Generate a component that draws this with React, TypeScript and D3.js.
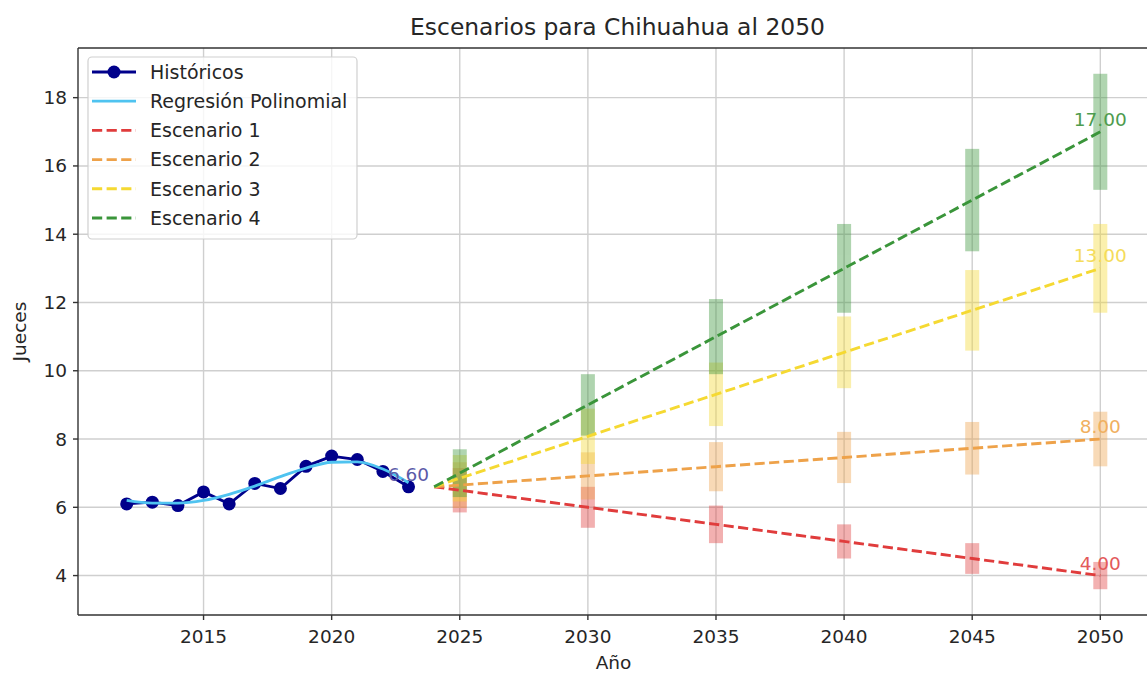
import React from 'react';
import * as d3 from 'd3';

// Historical data
const histYears = [2012, 2013, 2014, 2015, 2016, 2017, 2018, 2019, 2020, 2021, 2022, 2023];
const histValues = [6.1, 6.15, 6.05, 6.45, 6.1, 6.7, 6.55, 7.2, 7.5, 7.4, 7.05, 6.6];
// Polynomial fit
const regValues = [6.2, 6.12, 6.12, 6.2, 6.38, 6.62, 6.9, 7.15, 7.32, 7.33, 7.12, 6.72];

// Scenarios
const scenarioYears = [2024, 2025, 2030, 2035, 2040, 2045, 2050];
const scenario1 = [6.6, 6.5, 6.0, 5.5, 5.0, 4.5, 4.0];
const scenario2 = [6.6, 6.65, 6.92, 7.19, 7.46, 7.73, 8.0];
const scenario3 = [6.6, 6.85, 8.08, 9.31, 10.54, 11.77, 13.0];
const scenario4 = [6.6, 7.0, 9.0, 11.0, 13.0, 15.0, 17.0];

const barYears = [2025, 2030, 2035, 2040, 2045, 2050];
const err1 = [0.65, 0.6, 0.55, 0.5, 0.45, 0.4];
const err2 = [0.67, 0.69, 0.72, 0.75, 0.77, 0.8];
const err3 = [0.68, 0.81, 0.93, 1.05, 1.18, 1.3];
const err4 = [0.7, 0.9, 1.1, 1.3, 1.5, 1.7];

const xTicks = [2015, 2020, 2025, 2030, 2035, 2040, 2045, 2050];
const yTicks = [4, 6, 8, 10, 12, 14, 16, 18];

const scenarios = [
  { name: 'Escenario 1', values: scenario1, errors: err1, color: '#e03c3c', label: '#e35a5a' },
  { name: 'Escenario 2', values: scenario2, errors: err2, color: '#eea24a', label: '#f0b060' },
  { name: 'Escenario 3', values: scenario3, errors: err3, color: '#f5d932', label: '#f5dc5a' },
  { name: 'Escenario 4', values: scenario4, errors: err4, color: '#3a953a', label: '#4e9c4e' },
];

const W = 1147;
const H = 673;
const FONT = '"DejaVu Sans", sans-serif';

const App: React.FC = () => {
  const left = 78, right = 1149, top = 48, bottom = 615;

  const x = d3.scaleLinear().domain([2010.1, 2051.9]).range([left, right]);
  const y = d3.scaleLinear().domain([2.845, 19.455]).range([bottom, top]);

  const histLine = d3.line<number>()
    .x((_, i) => x(histYears[i]))
    .y(d => y(d));

  const regLine = d3.line<number>()
    .x((_, i) => x(histYears[i]))
    .y(d => y(d))
    .curve(d3.curveMonotoneX);

  const scenLine = d3.line<number>()
    .x((_, i) => x(scenarioYears[i]))
    .y(d => y(d));

  const lastIdx = scenarioYears.length - 1;
  const legendItems = ['Históricos', 'Regresión Polinomial', ...scenarios.map(s => s.name)];

  return (
    <svg width={W} height={H} style={{ position: 'absolute', left: 0, top: 0, background: '#fff' }}>
      <defs>
        <clipPath id="plot-clip">
          <rect x={left} y={top} width={right - left} height={bottom - top} />
        </clipPath>
      </defs>

      {/* Grid */}
      <g stroke="#cfcfcf" strokeWidth={1.4}>
        {xTicks.map(t => (
          <line key={'gx' + t} x1={x(t)} x2={x(t)} y1={top} y2={bottom} />
        ))}
        {yTicks.map(t => (
          <line key={'gy' + t} x1={left} x2={right} y1={y(t)} y2={y(t)} />
        ))}
      </g>

      <g clipPath="url(#plot-clip)">
        {/* Error bars */}
        {scenarios.map(s => (
          <g key={'eb' + s.name} fill={s.color} opacity={0.4}>
            {barYears.map((yr, i) => (
              <rect
                key={yr}
                x={x(yr) - 7}
                width={14}
                y={y(s.values[i + 1] + s.errors[i])}
                height={y(s.values[i + 1] - s.errors[i]) - y(s.values[i + 1] + s.errors[i])}
              />
            ))}
          </g>
        ))}

        {/* Historical */}
        <path d={histLine(histValues) || ''} fill="none" stroke="#00008b" strokeWidth={2.8} />
        {histValues.map((v, i) => (
          <circle key={'h' + i} cx={x(histYears[i])} cy={y(v)} r={6.5} fill="#00008b" />
        ))}
        <path d={regLine(regValues) || ''} fill="none" stroke="#4fc3f0" strokeWidth={2.8} />

        {/* Scenario lines */}
        {scenarios.map(s => (
          <path
            key={'sl' + s.name}
            d={scenLine(s.values) || ''}
            fill="none"
            stroke={s.color}
            strokeWidth={2.9}
            strokeDasharray="10.2,4.4"
          />
        ))}
      </g>

      {/* Value labels */}
      <text
        x={x(histYears[histYears.length - 1])}
        y={y(histValues[histValues.length - 1]) - 6}
        textAnchor="middle"
        fontFamily={FONT}
        fontSize={18.5}
        fill="#5a5aa8"
      >
        {histValues[histValues.length - 1].toFixed(2)}
      </text>
      {scenarios.map(s => (
        <text
          key={'lbl' + s.name}
          x={x(scenarioYears[lastIdx])}
          y={y(s.values[lastIdx]) - 6}
          textAnchor="middle"
          fontFamily={FONT}
          fontSize={18.5}
          fill={s.label}
        >
          {s.values[lastIdx].toFixed(2)}
        </text>
      ))}

      {/* Spines */}
      <g stroke="#333" strokeWidth={1.4} fill="none">
        <line x1={left} x2={left} y1={top} y2={bottom} />
        <line x1={left} x2={right} y1={bottom} y2={bottom} />
        <line x1={left} x2={right} y1={top} y2={top} />
        <line x1={right} x2={right} y1={top} y2={bottom} />
      </g>

      {/* Ticks */}
      <g fontFamily={FONT} fontSize={18.5} fill="#262626">
        {xTicks.map(t => (
          <g key={'tx' + t}>
            <line x1={x(t)} x2={x(t)} y1={bottom} y2={bottom + 5} stroke="#333" strokeWidth={1.4} />
            <text x={x(t)} y={bottom + 28} textAnchor="middle">{t}</text>
          </g>
        ))}
        {yTicks.map(t => (
          <g key={'ty' + t}>
            <line x1={left - 5} x2={left} y1={y(t)} y2={y(t)} stroke="#333" strokeWidth={1.4} />
            <text x={left - 11} y={y(t) + 6.5} textAnchor="end">{t}</text>
          </g>
        ))}
      </g>

      {/* Axis labels and title */}
      <text x={(left + right) / 2} y={669} textAnchor="middle" fontFamily={FONT} fontSize={18.5} fill="#262626">Año</text>
      <text
        transform={`translate(26, ${(top + bottom) / 2}) rotate(-90)`}
        textAnchor="middle"
        fontFamily={FONT}
        fontSize={18.5}
        fill="#262626"
      >
        Jueces
      </text>
      <text x={(left + right) / 2 + 4} y={35} textAnchor="middle" fontFamily={FONT} fontSize={23.4} fill="#262626">
        Escenarios para Chihuahua al 2050
      </text>

      {/* Legend */}
      <g>
        <rect x={88} y={57} width={269} height={182} rx={4} fill="#fff" fillOpacity={0.8} stroke="#d0d0d0" strokeWidth={1.2} />
        {legendItems.map((name, i) => {
          const cy = 72 + i * 29.2;
          const s = i >= 2 ? scenarios[i - 2] : null;
          return (
            <g key={'lg' + name}>
              {i === 0 && (
                <>
                  <line x1={92} x2={136} y1={cy} y2={cy} stroke="#00008b" strokeWidth={2.8} />
                  <circle cx={114} cy={cy} r={6.5} fill="#00008b" />
                </>
              )}
              {i === 1 && <line x1={92} x2={136} y1={cy} y2={cy} stroke="#4fc3f0" strokeWidth={2.8} />}
              {s && (
                <line x1={92} x2={136} y1={cy} y2={cy} stroke={s.color} strokeWidth={2.9} strokeDasharray="10.2,4.4" />
              )}
              <text x={150} y={cy + 6.8} fontFamily={FONT} fontSize={19} fill="#262626">{name}</text>
            </g>
          );
        })}
      </g>
    </svg>
  );
};

export default App;
